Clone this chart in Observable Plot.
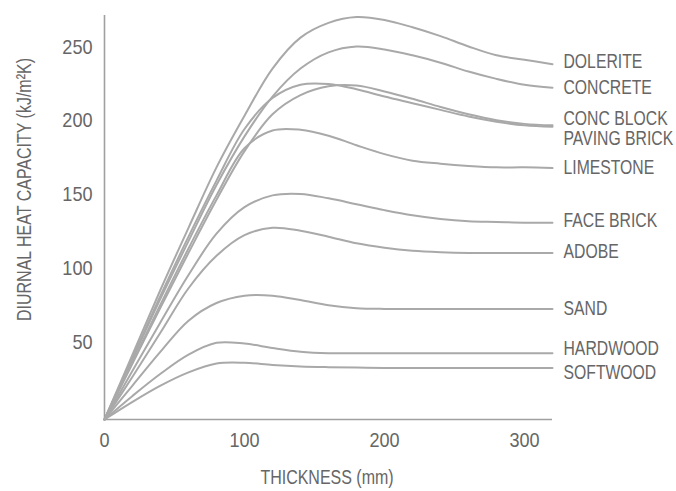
<!DOCTYPE html>
<html>
<head>
<meta charset="utf-8">
<script src="https://cdn.jsdelivr.net/npm/d3@7"></script>
<script src="https://cdn.jsdelivr.net/npm/@observablehq/plot@0.6"></script>
<style>
  html, body { margin: 0; padding: 0; background: #ffffff; }
  #chart { width: 676px; height: 491px; }
</style>
</head>
<body>
<div id="chart"></div>
<script>
// Thickness (mm) sample points
const thickness = [0, 20, 40, 60, 80, 100, 120, 140, 160, 180, 200, 220, 240, 260, 280, 300, 320];

// Materials (legend order, top to bottom)
const materials = ["DOLERITE", "CONCRETE", "CONC BLOCK", "PAVING BRICK", "LIMESTONE",
                   "FACE BRICK", "ADOBE", "SAND", "HARDWOOD", "SOFTWOOD"];

// Diurnal heat capacity (kJ/m²K) per material, read at the thickness points
const dolerite    = [0, 44, 88, 130, 171, 206, 238, 259, 269, 273, 271, 266, 260, 253, 247, 244, 241];
const concrete    = [0, 41, 82, 121, 159, 192, 219, 238, 249, 253, 251, 247, 242, 236, 231, 227, 225];
const concBlock   = [0, 42, 84, 124, 162, 197, 218, 227, 227.5, 224, 219, 214.5, 210, 205.5, 202, 199.5, 198.5];
const pavingBrick = [0, 38, 76, 113, 149, 182, 207, 220, 226, 226.5, 222.5, 217.5, 212, 207, 203, 200.5, 199.5];
const limestone   = [0, 39, 78, 116, 152, 184, 196, 196.5, 192.5, 186, 180, 175.5, 173.5, 172, 171, 171, 170.5];
const faceBrick   = [0, 33, 66, 98, 126, 144, 152, 153, 150, 146, 142, 138.5, 136, 134.5, 134, 133.5, 133.5];
const adobe       = [0, 29, 59, 89, 111, 125, 130, 128, 124, 119.5, 116.5, 114.5, 113.5, 113, 113, 113, 113];
const sand        = [0, 23, 46, 67, 79, 84, 84, 81, 77.5, 75.5, 75, 75, 75, 75, 75, 75, 75];
const hardwood    = [0, 16, 31, 44, 52, 51.5, 48.5, 46, 45, 45, 45, 45, 45, 45, 45, 45, 45];
const softwood    = [0, 12, 23, 32, 38, 38.5, 37, 36, 35.5, 35.2, 35, 35, 35, 35, 35, 35, 35];

const seriesValues = [dolerite, concrete, concBlock, pavingBrick, limestone,
                      faceBrick, adobe, sand, hardwood, softwood];

// Tick labels
const xTicks = [0, 100, 200, 300];
const yTicks = [50, 100, 150, 200, 250];
const xTitle = "THICKNESS (mm)";
const yTitle = "DIURNAL HEAT CAPACITY (kJ/m²K)";

// Build tidy table for Plot
const rows = [];
materials.forEach((m, i) => {
  thickness.forEach((t, j) => rows.push({material: m, thickness: t, value: seriesValues[i][j]}));
});
const endRows = materials.map((m, i) => ({material: m, thickness: thickness[thickness.length - 1],
  value: seriesValues[i][seriesValues[i].length - 1]}));

// Label pixel nudges (styling) so stacked labels don't collide
const labelNudge = {"DOLERITE": -3, "CONC BLOCK": -9, "PAVING BRICK": 13, "FACE BRICK": -2,
                    "ADOBE": -2, "HARDWOOD": -5, "SOFTWOOD": 4, "LIMESTONE": -1, "SAND": -1};

const font = "'Liberation Sans', Arial, sans-serif";
const textColor = "#666666";
const lineColor = "#a9a9a9";

const labelMarks = materials.map(m => Plot.text(endRows.filter(d => d.material === m), {
  x: "thickness", y: "value", text: "material",
  textAnchor: "start", dx: 11, dy: labelNudge[m] || 0,
  fill: textColor, fontSize: 21
}));

const chart = Plot.plot({
  width: 676,
  height: 491,
  marginLeft: 104,
  marginRight: 124,
  marginTop: 15,
  marginBottom: 72,
  style: {fontFamily: font, fontSize: "21px", color: textColor, background: "#ffffff", overflow: "visible"},
  x: {domain: [0, 320]},
  y: {domain: [0, 274]},
  marks: [
    Plot.axisX({ticks: xTicks, tickSize: 0, tickPadding: 13, label: null, fontSize: 21, fill: textColor}),
    Plot.axisY({ticks: yTicks, tickSize: 0, tickPadding: 12, label: null, dy: -4, fontSize: 21, fill: textColor}),
    Plot.ruleX([0], {stroke: "#a0a0a0", strokeWidth: 1.6}),
    Plot.ruleY([0], {stroke: "#a0a0a0", strokeWidth: 1.6}),
    Plot.line(rows, {x: "thickness", y: "value", z: "material", stroke: lineColor,
                     strokeWidth: 2, curve: "catmull-rom"}),
    ...labelMarks,
    Plot.text([xTitle], {frameAnchor: "bottom", textAnchor: "middle", lineAnchor: "middle",
                         dy: 58, dx: -1.5, fill: textColor, fontSize: 20.5}),
    Plot.text([yTitle], {frameAnchor: "left", textAnchor: "middle", lineAnchor: "middle",
                         rotate: -90, dx: -80, dy: -28, fill: textColor, fontSize: 20.5})
  ]
});
document.getElementById("chart").appendChild(chart);

// Emulate the condensed typeface of the original by narrowing each text run
chart.querySelectorAll("text").forEach(t => {
  const s = t.textContent.trim();
  if (!s) return;
  let r = 0.78;
  if (/^[0-9]+$/.test(s)) r = 0.86;
  else if (materials.includes(s)) r = 0.75;
  const len = t.getComputedTextLength();
  if (len > 0) {
    t.setAttribute("textLength", (len * r).toFixed(2));
    t.setAttribute("lengthAdjust", "spacingAndGlyphs");
  }
});
</script>
</body>
</html>
